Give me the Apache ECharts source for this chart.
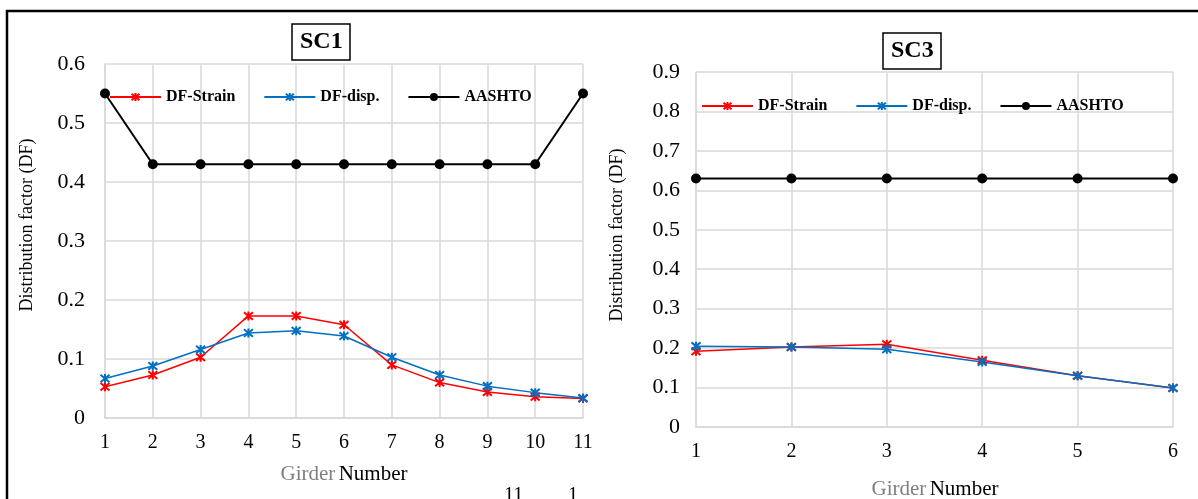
<!DOCTYPE html>
<html>
<head>
    <meta charset="utf-8">
    <title>DF chart</title>
    <script src="https://cdn.jsdelivr.net/npm/echarts@6/dist/echarts.min.js"></script>
</head>
<body style="margin:0;background:#fff;">
<div id="main" style="width:1198px;height:499px;"></div>
<script>
// SC1 data (11 girders)
var girdersSC1 = ['1', '2', '3', '4', '5', '6', '7', '8', '9', '10', '11'];
var strainSC1 = [0.053, 0.073, 0.103, 0.173, 0.173, 0.158, 0.090, 0.060, 0.044, 0.036, 0.033];
var dispSC1 = [0.067, 0.088, 0.116, 0.144, 0.148, 0.139, 0.103, 0.073, 0.054, 0.043, 0.034];
var aashtoSC1 = [0.55, 0.43, 0.43, 0.43, 0.43, 0.43, 0.43, 0.43, 0.43, 0.43, 0.55];

// SC3 data (6 girders)
var girdersSC3 = ['1', '2', '3', '4', '5', '6'];
var strainSC3 = [0.192, 0.203, 0.210, 0.169, 0.130, 0.099];
var dispSC3 = [0.205, 0.203, 0.197, 0.165, 0.130, 0.099];
var aashtoSC3 = [0.63, 0.63, 0.63, 0.63, 0.63, 0.63];

var seriesNames = ['DF-Strain', 'DF-disp.', 'AASHTO'];
var font = 'Liberation Serif';
var gridColor = '#d9d9d9';
var star = 'path://M0,0L10,10M10,0L0,10M5,-1L5,11';

function xAxisFor(idx, cats) {
    return {
        type: 'category', gridIndex: idx, data: cats, boundaryGap: false,
        axisLine: {lineStyle: {color: gridColor, width: 1.5}},
        axisTick: {show: false},
        axisLabel: {color: '#000', fontFamily: font, fontSize: 20, margin: 15},
        splitLine: {show: true, interval: 0, lineStyle: {color: gridColor, width: 1.5}}
    };
}
function yAxisFor(idx, max, margin) {
    return {
        type: 'value', gridIndex: idx, min: 0, max: max, interval: 0.1,
        axisLine: {show: true, lineStyle: {color: gridColor, width: 1.5}},
        axisTick: {show: false},
        axisLabel: {color: '#000', fontFamily: font, fontSize: 22, margin: margin},
        splitLine: {lineStyle: {color: gridColor, width: 1.5}}
    };
}
function lineSeries(name, idx, data, color) {
    var isAashto = name === 'AASHTO';
    return {
        name: name, type: 'line', xAxisIndex: idx, yAxisIndex: idx, data: data,
        symbol: isAashto ? 'circle' : star,
        symbolSize: isAashto ? 10 : 9,
        showAllSymbol: true,
        animation: false,
        lineStyle: {color: color, width: isAashto ? 2 : 1.5},
        itemStyle: {color: color, borderColor: color, borderWidth: isAashto ? 0 : 2}
    };
}
function legendAt(left, top) {
    return {
        data: seriesNames, left: left, top: top, padding: 0,
        itemWidth: 51, itemHeight: 10, itemGap: 28,
        selectedMode: false,
        textStyle: {fontFamily: font, fontSize: 16, fontWeight: 'bold', color: '#000'}
    };
}
function boxTitle(text, left, top) {
    return {
        text: text, left: left, top: top, padding: [6, 8],
        borderColor: '#000', borderWidth: 1.5, backgroundColor: '#fff',
        textStyle: {fontFamily: font, fontSize: 24, fontWeight: 'bold', color: '#000'}
    };
}
function xName(x, y) {
    return {
        type: 'text', x: x, y: y,
        style: {
            text: '{g|Girder} {n|Number}', align: 'center', verticalAlign: 'middle',
            rich: {
                g: {fontFamily: font, fontSize: 21, fill: '#7f7f7f'},
                n: {fontFamily: font, fontSize: 21, fill: '#000'}
            }
        }
    };
}
function yName(x, y) {
    return {
        type: 'text', x: x, y: y, rotation: Math.PI / 2,
        style: {
            text: 'Distribution factor (DF)', align: 'center', verticalAlign: 'middle',
            fontFamily: font, fontSize: 18, fill: '#000'
        }
    };
}

var option = {
    backgroundColor: '#fff',
    title: [boxTitle('SC1', 292, 24), boxTitle('SC3', 883, 33)],
    legend: [legendAt(109, 89), legendAt(701, 98)],
    grid: [
        {left: 105, right: 615, top: 64, bottom: 81},
        {left: 696, right: 25, top: 72, bottom: 72}
    ],
    xAxis: [xAxisFor(0, girdersSC1), xAxisFor(1, girdersSC3)],
    yAxis: [yAxisFor(0, 0.6, 20), yAxisFor(1, 0.9, 16)],
    series: [
        lineSeries('DF-Strain', 0, strainSC1, '#ff0000'),
        lineSeries('DF-disp.', 0, dispSC1, '#0070c0'),
        lineSeries('AASHTO', 0, aashtoSC1, '#000000'),
        lineSeries('DF-Strain', 1, strainSC3, '#ff0000'),
        lineSeries('DF-disp.', 1, dispSC3, '#0070c0'),
        lineSeries('AASHTO', 1, aashtoSC3, '#000000')
    ],
    graphic: [
        {type: 'polyline', shape: {points: [[7, 499], [7, 11], [1198, 11]]}, style: {stroke: '#000', lineWidth: 2.5, fill: null}},
        xName(344, 474),
        xName(935, 489),
        yName(27, 225),
        yName(617, 235),
        // clipped text fragments at the bottom edge
        {type: 'text', x: 504, y: 486, style: {text: '11', fontFamily: font, fontSize: 20, fill: '#000'}},
        {type: 'text', x: 568, y: 486, style: {text: '1', fontFamily: font, fontSize: 20, fill: '#000'}}
    ]
};

var myChart = echarts.init(document.getElementById('main'));
myChart.setOption(option);
</script>
</body>
</html>
